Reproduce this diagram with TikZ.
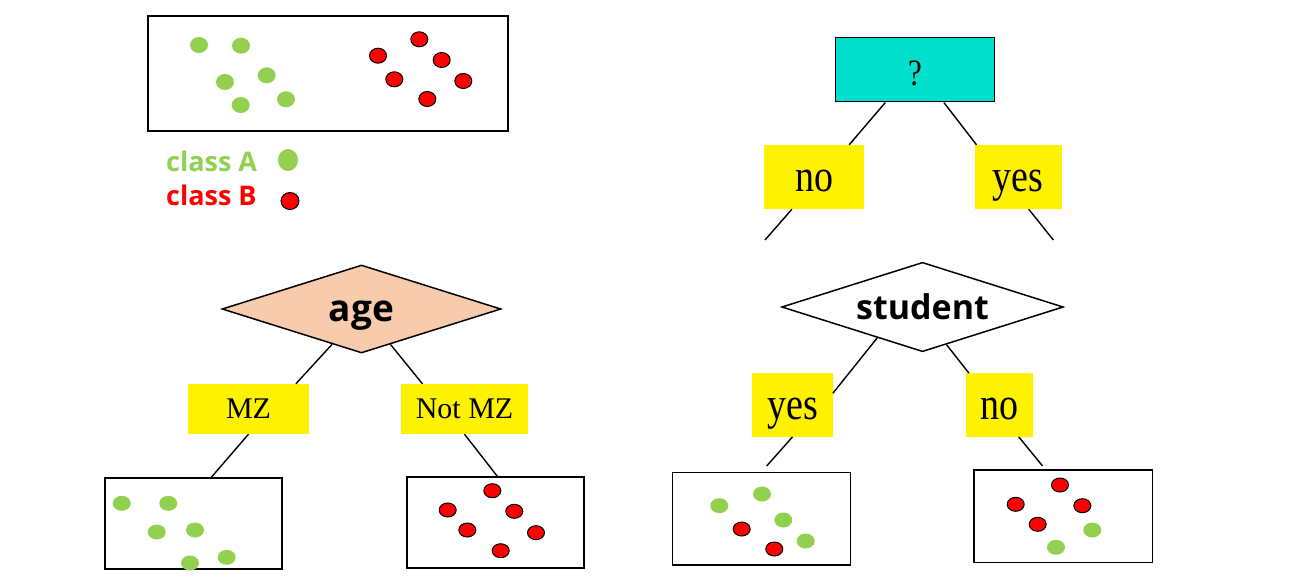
\documentclass[tikz,border=0pt]{standalone}
\usepackage{fontspec}
\setmainfont{Liberation Serif}
\newfontfamily\hfont{Open Sans}
\usetikzlibrary{shapes.geometric,calc}
\definecolor{clsgreen}{HTML}{92D050}
\definecolor{clsred}{HTML}{FF0000}
\definecolor{lblyellow}{HTML}{FFF200}
\definecolor{peach}{HTML}{F8CBAD}
\definecolor{qcyan}{HTML}{00E0CC}
\newcommand{\tallt}[2]{\scalebox{1}[1.2]{\fontsize{#1}{#1}\selectfont #2}}
\begin{document}
\begin{tikzpicture}[x=1pt,y=-1pt,
 box/.style={draw=black, line width=1.5pt, rectangle, inner sep=0pt},
 lbl/.style={fill=lblyellow, rectangle, inner sep=0pt, font=\fontsize{30}{36}\selectfont},
 tall/.style={text height=28.5pt, text depth=0pt},
 test/.style={diamond, draw=black, line width=1.5pt, inner sep=0pt, aspect=3.15,
   text height=24pt, text depth=0pt, font=\hfont\bfseries\fontsize{34}{40}\selectfont},
 edge/.style={line width=1.4pt},
 gdot/.style={fill=clsgreen},
 rdot/.style={fill=clsred, draw=black, line width=1pt},
 legend/.style={anchor=west, inner sep=0pt, font=\hfont\bfseries\fontsize{27}{32}\selectfont}]
\useasboundingbox (0,0) rectangle (1314,576);

% ---------- top-left dataset ----------
\node[box, minimum width=360pt, minimum height=115pt] (data) at (328,73.5) {};
\foreach \x/\y in {199/45, 241/45.7, 225/82, 266.7/75.3, 240.7/105, 286/99.3}
  \fill[gdot] (\x,\y) ellipse [x radius=9, y radius=8];
\foreach \x/\y in {419.3/39.3, 378/55.7, 441.7/60, 394.3/79.3, 463.3/81, 427.3/99}
  \filldraw[rdot] (\x,\y) ellipse [x radius=8.5, y radius=7.5];

% legend
\node[legend, text=clsgreen] (legA) at (166,161) {class A};
\node[legend, text=clsred] (legB) at (166,195) {class B};
\fill[gdot] (288,160) ellipse [x radius=10, y radius=11];
\filldraw[rdot] (290,201) ellipse [x radius=9, y radius=8.5];

% ---------- age tree ----------
\node[test, fill=peach, minimum width=279pt, minimum height=88pt,
  font=\hfont\bfseries\fontsize{37}{44}\selectfont, text height=25pt] (age) at (361.5,309) {age};
\node[lbl, minimum width=121pt, minimum height=50pt] (mz) at (248.5,409) {MZ};
\node[lbl, minimum width=127pt, minimum height=50pt] (notmz) at (464.5,409) {Not MZ};
\node[box, minimum width=177pt, minimum height=91pt] (leafA) at (193.5,523.5) {};
\node[box, minimum width=177pt, minimum height=91pt] (leafB) at (495.5,522.5) {};

\draw[edge] ($(age.south)!0.21!(age.west)$) -- ($(mz.north west)!0.89!(mz.north east)$);
\draw[edge] ($(age.south)!0.207!(age.east)$) -- ($(notmz.north west)!0.17!(notmz.north east)$);
\draw[edge] (mz.south) -- ($(leafA.north west)!0.60!(leafA.north east)$);
\draw[edge] (notmz.south) -- ($(leafB.north west)!0.51!(leafB.north east)$);

\foreach \x/\y in {121.7/503.3, 168.3/503.3, 156.7/532, 195/530, 190/563, 226.7/557.3}
  \fill[gdot] (\x,\y) ellipse [x radius=9, y radius=7.5];
\foreach \x/\y in {492.3/490.7, 447.7/510, 514.3/511.3, 467.3/530, 536/532.7, 500.7/550.7}
  \filldraw[rdot] (\x,\y) ellipse [x radius=8.5, y radius=7];

% ---------- right tree ----------
\node[box, fill=qcyan, minimum width=158.6pt, minimum height=64pt, text height=30.6pt, text depth=0pt] (q) at (915,69.7) {\tallt{31}{?}};
\node[lbl, tall, minimum width=100pt, minimum height=64pt] (no1) at (814,177) {\tallt{38}{no}};
\node[lbl, tall, minimum width=86.7pt, minimum height=64pt] (yes1) at (1018.3,177) {\tallt{38}{yes}};
\coordinate (nofree) at (765,240);
\coordinate (yesfree) at (1053.3,240);

\draw[edge] ($(q.south west)!0.315!(q.south east)$) -- ($(no1.north west)!0.85!(no1.north east)$);
\draw[edge] ($(q.south west)!0.68!(q.south east)$) -- ($(yes1.north west)!0.02!(yes1.north east)$);
\draw[edge] ($(no1.south west)!0.28!(no1.south east)$) -- (nofree);
\draw[edge] ($(yes1.south west)!0.62!(yes1.south east)$) -- (yesfree);

\node[test, fill=white, minimum width=281.6pt, minimum height=89.4pt] (student) at (922.5,307) {student};
\node[lbl, tall, minimum width=80.4pt, minimum height=63.4pt] (yes2) at (792.5,405) {\tallt{38}{yes}};
\node[lbl, tall, minimum width=67pt, minimum height=63.4pt] (no2) at (999.2,405) {\tallt{38}{no}};
\node[box, minimum width=178pt, minimum height=92.7pt] (leafC) at (761.7,518.7) {};
\node[box, minimum width=178.3pt, minimum height=92.7pt] (leafD) at (1063.2,516.3) {};

\draw[edge] ($(student.south)!0.32!(student.west)$) -- ($(yes2.north east)!0.315!(yes2.south east)$);
\draw[edge] ($(student.south)!0.17!(student.east)$) -- ($(no2.north west)!0.05!(no2.north east)$);
\draw[edge, shorten >=7.5pt] (yes2.south) -- ($(leafC.north west)!0.5!(leafC.north east)$);
\draw[edge, shorten >=4.3pt] ($(no2.south west)!0.79!(no2.south east)$) -- ($(leafD.north west)!0.40!(leafD.north east)$);

\foreach \x/\y in {719.3/505.7, 762/494, 783.3/520, 805.7/541}
  \fill[gdot] (\x,\y) ellipse [x radius=9, y radius=7.5];
\foreach \x/\y in {741.7/529, 774.3/549}
  \filldraw[rdot] (\x,\y) ellipse [x radius=8.5, y radius=7];
\foreach \x/\y in {1092.3/530, 1056/547.3}
  \fill[gdot] (\x,\y) ellipse [x radius=9, y radius=7.5];
\foreach \x/\y in {1060/485, 1015.7/504.3, 1082.3/505.7, 1037.7/524.3}
  \filldraw[rdot] (\x,\y) ellipse [x radius=8.5, y radius=7];
\end{tikzpicture}
\end{document}
